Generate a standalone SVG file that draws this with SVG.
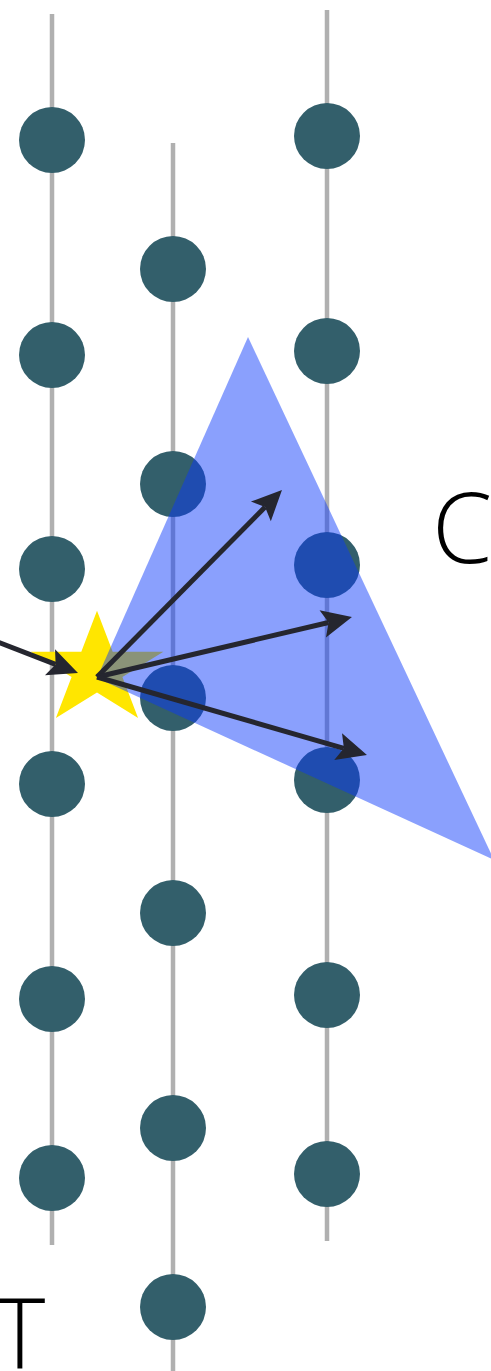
<svg xmlns="http://www.w3.org/2000/svg" width="491" height="1371" viewBox="0 0 491 1371">
<style>
.rail{stroke:#b0b0b0;stroke-width:4.5;fill:none}
.dot{fill:#335f6b}
.arr{stroke:#25262f;stroke-width:5;fill:none;marker-end:url(#ah)}
.lbl{font-family:"Open Sans","Liberation Sans",sans-serif;font-weight:300;font-size:97px;fill:#000}
</style>
<defs>
<marker id="ah" markerUnits="userSpaceOnUse" markerWidth="60" markerHeight="60" refX="6" refY="0" orient="auto" overflow="visible">
<path d="M0,-14 L30,0 L0,14 L6,0 z" fill="#25262f"/>
</marker>
</defs>
<g id="rails">
<line class="rail" x1="52" y1="14" x2="52" y2="1245"/>
<line class="rail" x1="173" y1="143" x2="173" y2="1371"/>
<line class="rail" x1="327" y1="10" x2="327" y2="1241"/>
</g>
<g id="col1">
<circle class="dot" cx="52" cy="140" r="33"/>
<circle class="dot" cx="52" cy="355" r="33"/>
<circle class="dot" cx="52" cy="569" r="33"/>
<circle class="dot" cx="52" cy="784" r="33"/>
<circle class="dot" cx="52" cy="999" r="33"/>
<circle class="dot" cx="52" cy="1178" r="33"/>
</g>
<g id="col2">
<circle class="dot" cx="173" cy="269" r="33"/>
<circle class="dot" cx="173" cy="484" r="33"/>
<circle class="dot" cx="173" cy="698" r="33"/>
<circle class="dot" cx="173" cy="913" r="33"/>
<circle class="dot" cx="173" cy="1128" r="33"/>
<circle class="dot" cx="173" cy="1307" r="33"/>
</g>
<g id="col3">
<circle class="dot" cx="327" cy="136" r="33"/>
<circle class="dot" cx="327" cy="351" r="33"/>
<circle class="dot" cx="327" cy="565" r="33"/>
<circle class="dot" cx="327" cy="780" r="33"/>
<circle class="dot" cx="327" cy="995" r="33"/>
<circle class="dot" cx="327" cy="1174" r="33"/>
</g>
<g id="star">
<polygon points="97,610.8 112.7,651.7 163.4,651.7 122.4,677 138.1,717.9 97,692.6 55.9,717.9 71.6,677 30.6,651.7 81.3,651.7" fill="#ffe600"/>
</g>
<g id="cone">
<polygon points="248,337 97,678 494,860" fill="#0b39fa" fill-opacity="0.48"/>
</g>
<g id="connectors">
<line class="arr" x1="-5" y1="641" x2="55.6" y2="664.4"/>
<line class="arr" x1="97" y1="677" x2="265.1" y2="507.1"/>
<line class="arr" x1="97" y1="677" x2="328.6" y2="622.5"/>
<line class="arr" x1="97" y1="677" x2="343.9" y2="748.3"/>
</g>
<g id="labels">
<text class="lbl" x="432" y="563">C</text>
<text class="lbl" x="20" y="1368" text-anchor="middle">T</text>
</g>
</svg>
